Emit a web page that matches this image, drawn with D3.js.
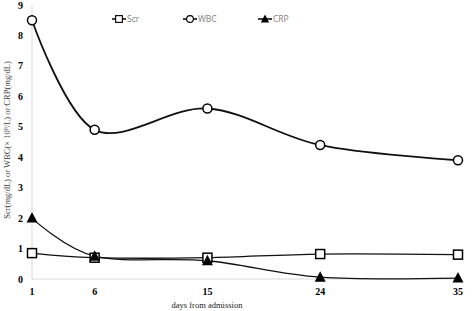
<!DOCTYPE html>
<html>
<head>
<meta charset="utf-8">
<script src="https://cdn.jsdelivr.net/npm/d3@7"></script>
<style>
  body { margin: 0; background: #fff; }
</style>
</head>
<body>
<svg id="chart" width="472" height="311"></svg>
<script>
// values
const days = [1, 6, 15, 24, 35];
const scr = [0.85, 0.7, 0.7, 0.82, 0.8];
const wbc = [8.5, 4.9, 5.6, 4.4, 3.9];
const crp = [2.0, 0.75, 0.6, 0.06, 0.03];
const yTicks = [0, 1, 2, 3, 4, 5, 6, 7, 8, 9];

const svg = d3.select("#chart");
const margin = {top: 5, right: 14, bottom: 32, left: 32};
const width = +svg.attr("width") - margin.left - margin.right,
      height = +svg.attr("height") - margin.top - margin.bottom;

const x = d3.scaleLinear().domain([1, 35]).range([0, width]);
const y = d3.scaleLinear().domain([0, 9]).range([height, 0]);

const g = svg.append("g").attr("transform", "translate(" + margin.left + "," + margin.top + ")");

// axes lines
g.append("line").attr("x1", 0).attr("x2", 0).attr("y1", 0).attr("y2", height)
  .attr("stroke", "#d9d9d9");
g.append("line").attr("x1", 0).attr("x2", width).attr("y1", height).attr("y2", height)
  .attr("stroke", "#d9d9d9");

// tick labels
g.selectAll(".ytick").data(yTicks).enter().append("text")
  .attr("x", -9).attr("y", d => y(d)).attr("dy", "0.35em")
  .attr("text-anchor", "end")
  .attr("font-family", "Liberation Serif").attr("font-weight", "bold").attr("font-size", 10)
  .text(d => d);
g.selectAll(".xtick").data(days).enter().append("text")
  .attr("x", d => x(d)).attr("y", height + 16)
  .attr("text-anchor", "middle")
  .attr("font-family", "Liberation Serif").attr("font-weight", "bold").attr("font-size", 10)
  .text(d => d);

// axis titles
svg.append("text")
  .attr("transform", "translate(10,140) rotate(-90)")
  .attr("text-anchor", "middle")
  .attr("font-family", "Liberation Serif").attr("font-size", 8.5).attr("fill", "#404040")
  .text("Scr(mg/dL) or WBC(\u00d7 10\u2079/L) or CRP(mg/dL)");
svg.append("text")
  .attr("x", 207).attr("y", 308)
  .attr("text-anchor", "middle")
  .attr("font-family", "Liberation Serif").attr("font-size", 8.5).attr("fill", "#222")
  .text("days from admission");

const line = d3.line().x(d => x(d[0])).y(d => y(d[1])).curve(d3.curveCatmullRom.alpha(0));

const series = [
  {name: "Scr", values: scr, shape: "square", sw: 1.3},
  {name: "WBC", values: wbc, shape: "circle", sw: 1.8},
  {name: "CRP", values: crp, shape: "triangle", sw: 1.3}
];

function marker(sel, shape) {
  if (shape === "square") {
    sel.append("rect").attr("x", -4.5).attr("y", -4.5).attr("width", 9).attr("height", 9)
      .attr("fill", "#fff").attr("stroke", "#000").attr("stroke-width", 1.5);
  } else if (shape === "circle") {
    sel.append("circle").attr("r", 4.5)
      .attr("fill", "#fff").attr("stroke", "#000").attr("stroke-width", 1.5);
  } else {
    sel.append("path").attr("d", "M0,-6L5.5,4.5L-5.5,4.5Z").attr("fill", "#000");
  }
}

series.forEach(s => {
  const pts = days.map((d, i) => [d, s.values[i]]);
  g.append("path").datum(pts).attr("d", line)
    .attr("fill", "none").attr("stroke", "#111").attr("stroke-width", s.sw);
});
series.forEach(s => {
  const pts = days.map((d, i) => [d, s.values[i]]);
  g.selectAll(null).data(pts).enter().append("g")
    .attr("transform", d => "translate(" + x(d[0]) + "," + y(d[1]) + ")")
    .each(function () { marker(d3.select(this), s.shape); });
});

// legend
const legendX = [112, 183, 258];
series.forEach((s, i) => {
  const lg = svg.append("g").attr("transform", "translate(" + legendX[i] + ",19)");
  lg.append("line").attr("x1", 0).attr("x2", 14).attr("stroke", "#000").attr("stroke-width", 1.5);
  const m = lg.append("g").attr("transform", "translate(7,0) scale(0.75)");
  marker(m, s.shape);
  lg.append("text").attr("x", 15).attr("dy", "0.35em")
    .attr("font-family", "Open Sans").attr("font-size", 8.5).attr("fill", "#808080")
    .text(s.name);
});
</script>
</body>
</html>
